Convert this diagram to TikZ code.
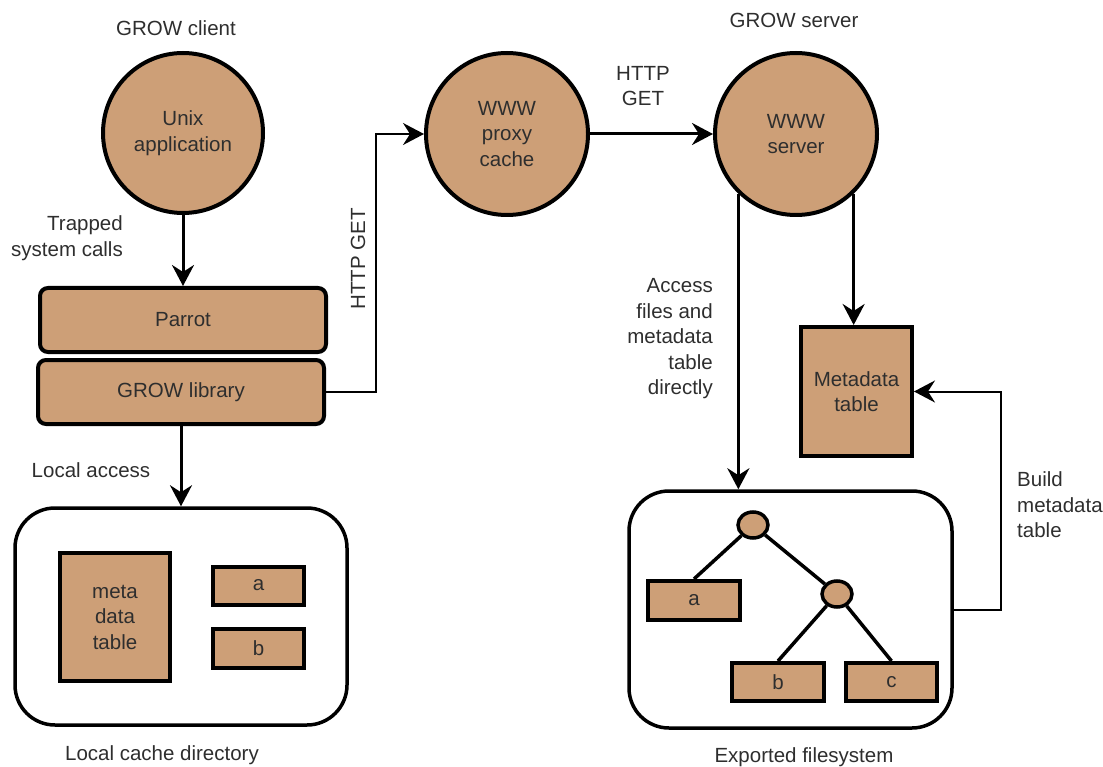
\documentclass[tikz,border=0pt]{standalone}
\usepackage{fontspec}
\setmainfont{Liberation Sans}
\usetikzlibrary{arrows.meta,shapes.geometric}
\definecolor{tan}{HTML}{CD9F77}
\definecolor{ink}{HTML}{2E2E2E}
\begin{document}
\begin{tikzpicture}[x=1pt,y=-1pt,
  txt/.style={text=ink,font=\fontsize{20.5}{25.5}\selectfont,inner sep=0pt},
  ball/.style={circle,draw=black,line width=4pt,fill=tan,inner sep=0pt,txt,align=center},
  layer/.style={rectangle,rounded corners=8pt,draw=black,line width=4pt,fill=tan,txt,align=center},
  filebox/.style={rectangle,draw=black,line width=4pt,fill=tan,txt,align=center},
  dirbox/.style={rectangle,rounded corners=40pt,draw=black,line width=3.5pt,fill=white},
  knot/.style={ellipse,draw=black,line width=3.5pt,fill=tan,minimum width=30pt,minimum height=26pt,inner sep=0pt},
  arr/.style={line width=3pt,-{Stealth[length=21pt,width=22pt,inset=7pt]}},
  tarr/.style={line width=2pt,-{Stealth[length=21pt,width=22pt,inset=7pt]}},
  edge/.style={line width=3.5pt}]
\useasboundingbox (0,0) rectangle (1103,767);

% circles
\node[ball,minimum size=160pt] (unix) at (183,133) {Unix\\application};
\node[ball,minimum size=162pt] (proxy) at (507,134) {WWW\\proxy\\cache};
\node[ball,minimum size=162pt] (server) at (796,134) {WWW\\server};

% client layers
\node[layer,minimum width=286pt,minimum height=64pt] (parrot) at (183,320) {Parrot};
\node[layer,minimum width=286pt,minimum height=64pt] (grow) at (181,392) {GROW library};

% local cache directory
\node[dirbox,minimum width=332pt,minimum height=217pt] (local) at (181,616.5) {};
\node[filebox,minimum width=110pt,minimum height=128pt] (meta) at (115,617) {meta\\data\\table};
\node[filebox,minimum width=91pt,minimum height=38pt] (la) at (258.5,585.5) {a};
\node[filebox,minimum width=91pt,minimum height=39pt] (lb) at (258.5,648.5) {b};

% server side
\node[filebox,minimum width=111pt,minimum height=129pt] (mdt) at (856.5,391.5) {Metadata\\table};
\node[dirbox,minimum width=323pt,minimum height=237pt] (exp) at (790.5,609.5) {};
\node[knot] (root) at (753,525) {};
\node[knot] (n2) at (837,594) {};
\node[filebox,minimum width=92pt,minimum height=39pt] (ta) at (694,600.5) {a};
\node[filebox,minimum width=92pt,minimum height=38pt] (tb) at (778,682) {b};
\node[filebox,minimum width=91pt,minimum height=38pt] (tc) at (891.5,682) {c};

\draw[edge] (root) -- (ta.north);
\draw[edge] (root) -- (n2);
\draw[edge] (n2) -- (tb.north);
\draw[edge] (n2) -- (tc.north);

% connectors
\draw[arr] (unix.south) -- (parrot.north);
\draw[arr] (grow.south) -- (local.north);
\draw[tarr] (grow.east) -- ++(50,0) |- (proxy.west);
\draw[arr] (proxy.east) -- (server.west);
\draw[arr] (server.-134) -- (server.-134 |- exp.north);
\draw[arr] (server.-46) -- (server.-46 |- mdt.north);
\draw[tarr] (exp.east) -- ++(47,0) |- (mdt.east);

% labels
\node[txt] (lclient) at (176,28) {GROW client};
\node[txt] (lserver) at (794,20) {GROW server};
\node[txt,align=right,anchor=east] (ltrap) at (123,238) {Trapped\\system calls};
\node[txt,rotate=90] (lhttp1) at (358,259) {HTTP GET};
\node[txt,align=center] (lhttp2) at (643,86) {HTTP\\GET};
\node[txt,align=right,anchor=east] (lacc) at (713,339) {Access\\files and\\metadata\\table\\directly};
\node[txt,align=left,anchor=west] (lbuild) at (1017,505) {Build\\metadata\\table};
\node[txt] (llocal) at (91,470) {Local access};
\node[txt] (lcache) at (162,755) {Local cache directory};
\node[txt] (lexp) at (804,757) {Exported filesystem};
\end{tikzpicture}
\end{document}
